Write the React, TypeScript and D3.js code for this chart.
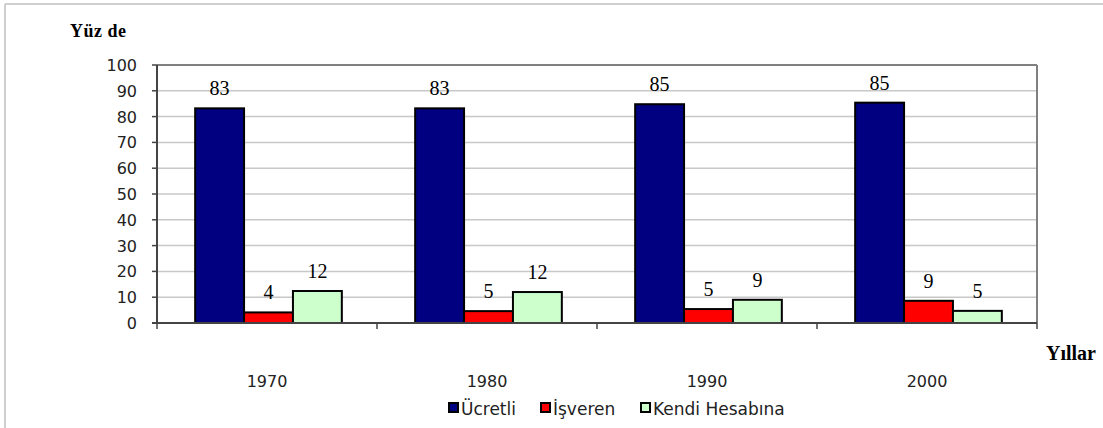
import React from "react";
import * as d3 from "d3";

const years = ["1970", "1980", "1990", "2000"];
const seriesNames = ["Ücretli", "İşveren", "Kendi Hesabına"];
const ucretli = [83.2, 83.2, 84.8, 85.4];
const isveren = [4.1, 4.6, 5.4, 8.6];
const kendi = [12.4, 12.0, 9.0, 4.7];
const yTicks = [0, 10, 20, 30, 40, 50, 60, 70, 80, 90, 100];
const colors = ["#000080", "#ff0000", "#ccffcc"];

const W = 1103;
const H = 428;
const left = 157;
const right = 1037;
const top = 65;
const bottom = 323;

export default function App() {
  const series = [ucretli, isveren, kendi];
  const x = d3.scaleBand<string>().domain(years).range([left, right]).paddingInner(0).paddingOuter(0);
  const y = d3.scaleLinear().domain([0, 100]).range([bottom, top]);
  const sans = "'DejaVu Sans', sans-serif";
  const serif = "'Liberation Serif', 'Times New Roman', serif";
  const bw = x.bandwidth() / 4.5;
  const groupOff = (x.bandwidth() - 3 * bw) / 2 + 1.5;

  return (
    <svg width={W} height={H} style={{ position: "absolute", left: 0, top: 0, background: "#fff" }}>
      <line x1={5} y1={4} x2={W} y2={4} stroke="#cfcfcf" strokeWidth={2} />
      <line x1={5} y1={4} x2={5} y2={H} stroke="#cfcfcf" strokeWidth={2} />
      {yTicks.map((t) => (
        <g key={t}>
          {t > 0 && t < 100 && (
            <line x1={left} x2={right} y1={y(t)} y2={y(t)} stroke="#c8c8c8" strokeWidth={1.5} />
          )}
          <line x1={left - 5} x2={left} y1={y(t)} y2={y(t)} stroke="#444" strokeWidth={1.5} />
          <text x={137} y={y(t) + 6} textAnchor="end" fontFamily={sans} fontSize={16} fill="#222">
            {t}
          </text>
        </g>
      ))}
      <line x1={left} x2={right} y1={top} y2={top} stroke="#808080" strokeWidth={2} />
      <line x1={right} x2={right} y1={top} y2={bottom} stroke="#808080" strokeWidth={2} />
      {years.map((yr, i) => (
        <g key={yr}>
          {series.map((s, j) => {
            const bx = (x(yr) as number) + groupOff + j * bw;
            return (
              <g key={j}>
                <rect
                  x={bx}
                  y={y(s[i])}
                  width={bw}
                  height={y(0) - y(s[i])}
                  fill={colors[j]}
                  stroke="#000"
                  strokeWidth={2}
                />
                <text
                  x={bx + bw / 2}
                  y={y(s[i]) - 13}
                  textAnchor="middle"
                  fontFamily={serif}
                  fontSize={20}
                  fill="#000"
                >
                  {Math.round(s[i])}
                </text>
              </g>
            );
          })}
          <text
            x={(x(yr) as number) + x.bandwidth() / 2}
            y={387}
            textAnchor="middle"
            fontFamily={sans}
            fontSize={16}
            fill="#222"
          >
            {yr}
          </text>
        </g>
      ))}
      <line x1={left} x2={left} y1={top} y2={bottom + 1} stroke="#444" strokeWidth={2} />
      <line x1={left - 5} x2={right} y1={bottom} y2={bottom} stroke="#444" strokeWidth={2} />
      {[...years.map((yr) => x(yr) as number), right].map((px, i) => (
        <line key={i} x1={px} x2={px} y1={bottom} y2={bottom + 6} stroke="#444" strokeWidth={1.5} />
      ))}
      <text x={70} y={37} fontFamily={serif} fontWeight="bold" fontSize={18} fill="#000" letterSpacing={0.5}>
        Yüz de
      </text>
      <text x={1046} y={360} fontFamily={serif} fontWeight="bold" fontSize={20} fill="#000">
        Yıllar
      </text>
      {seriesNames.map((n, j) => {
        const lx = [449, 541, 641][j];
        return (
          <g key={n}>
            <rect x={lx} y={403} width={9} height={9} fill={colors[j]} stroke="#000" strokeWidth={2} />
            <text x={lx + 12} y={415} fontFamily={sans} fontSize={17} fill="#222">
              {n}
            </text>
          </g>
        );
      })}
    </svg>
  );
}
